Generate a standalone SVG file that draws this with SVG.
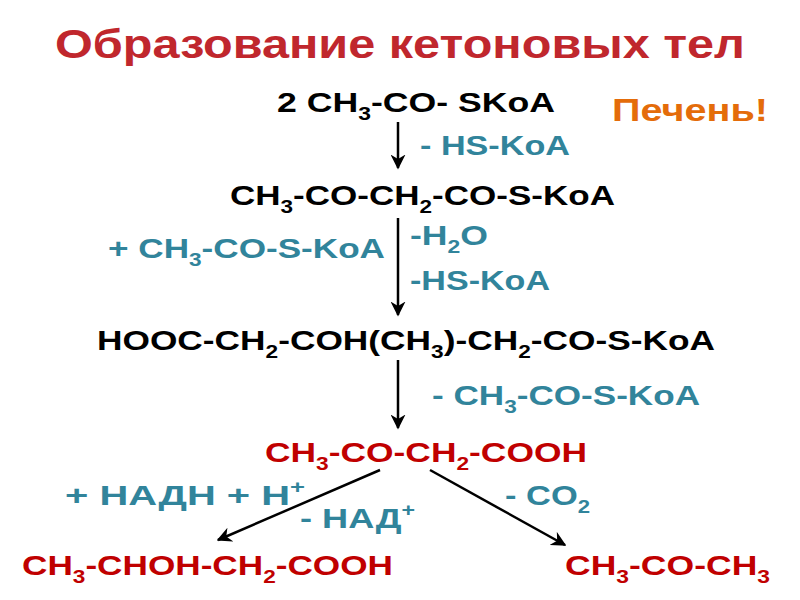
<svg xmlns="http://www.w3.org/2000/svg" width="800" height="600" viewBox="0 0 800 600">
<defs>
<style>
text{font-family:"Liberation Sans",Arial,sans-serif;font-weight:bold;font-size:28px}
.k{fill:#000}.t{fill:#31849B}.r{fill:#C00000}
.s{font-size:18px}
.c{stroke:#000;stroke-width:2.5;fill:none;marker-end:url(#a)}
</style>
<marker id="a" viewBox="0 0 10 10" refX="9" refY="5" markerWidth="6" markerHeight="6" orient="auto"><path d="M0,0 L10,5 L0,10 L3,5 Z" fill="#000"/></marker>
</defs>
<rect width="800" height="600" fill="#fff"/>
<text x="400" y="58" text-anchor="middle" style="font-size:40px" fill="#C0272D" textLength="690" lengthAdjust="spacingAndGlyphs">Образование кетоновых тел</text>
<text x="612" y="121" style="font-size:32px" fill="#E46C0A" textLength="156" lengthAdjust="spacingAndGlyphs">Печень!</text>
<g id="connectors">
<line class="c" x1="398" y1="122" x2="398" y2="168"/>
<line class="c" x1="398" y1="218" x2="398" y2="315"/>
<line class="c" x1="398" y1="360" x2="398" y2="428"/>
<line class="c" x1="380" y1="470" x2="218" y2="540"/>
<line class="c" x1="430" y1="470" x2="565" y2="545"/>
</g>
<g id="n1"><text class="k" x="277" y="112" textLength="278" lengthAdjust="spacingAndGlyphs">2 CH<tspan class="s" dy="8">3</tspan><tspan dy="-8">-CO- SKoA</tspan></text></g>
<text class="t" x="420" y="155" textLength="150" lengthAdjust="spacingAndGlyphs">- HS-KoA</text>
<g id="n2"><text class="k" x="230" y="205" textLength="385" lengthAdjust="spacingAndGlyphs">CH<tspan class="s" dy="8">3</tspan><tspan dy="-8">-CO-CH</tspan><tspan class="s" dy="8">2</tspan><tspan dy="-8">-CO-S-KoA</tspan></text></g>
<text class="t" x="108" y="258" textLength="277" lengthAdjust="spacingAndGlyphs">+ CH<tspan class="s" dy="8">3</tspan><tspan dy="-8">-CO-S-KoA</tspan></text>
<text class="t" x="410" y="245" textLength="78" lengthAdjust="spacingAndGlyphs">-H<tspan class="s" dy="8">2</tspan><tspan dy="-8">O</tspan></text>
<text class="t" x="410" y="290" textLength="140" lengthAdjust="spacingAndGlyphs">-HS-KoA</text>
<g id="n3"><text class="k" x="97" y="350" textLength="618" lengthAdjust="spacingAndGlyphs">HOOC-CH<tspan class="s" dy="8">2</tspan><tspan dy="-8">-COH(CH</tspan><tspan class="s" dy="8">3</tspan><tspan dy="-8">)-CH</tspan><tspan class="s" dy="8">2</tspan><tspan dy="-8">-CO-S-KoA</tspan></text></g>
<text class="t" x="432" y="405" textLength="268" lengthAdjust="spacingAndGlyphs">- CH<tspan class="s" dy="8">3</tspan><tspan dy="-8">-CO-S-KoA</tspan></text>
<g id="n4"><text class="r" x="265" y="462" textLength="322" lengthAdjust="spacingAndGlyphs">CH<tspan class="s" dy="8">3</tspan><tspan dy="-8">-CO-CH</tspan><tspan class="s" dy="8">2</tspan><tspan dy="-8">-COOH</tspan></text></g>
<text class="t" x="65" y="505" textLength="240" lengthAdjust="spacingAndGlyphs">+ НАДН + H<tspan class="s" dy="-12">+</tspan></text>
<text class="t" x="300" y="528" textLength="115" lengthAdjust="spacingAndGlyphs">- НАД<tspan class="s" dy="-12">+</tspan></text>
<text class="t" x="505" y="505" textLength="85" lengthAdjust="spacingAndGlyphs">- CO<tspan class="s" dy="8">2</tspan></text>
<g id="n5"><text class="r" x="22" y="575" textLength="371" lengthAdjust="spacingAndGlyphs">CH<tspan class="s" dy="8">3</tspan><tspan dy="-8">-CHOH-CH</tspan><tspan class="s" dy="8">2</tspan><tspan dy="-8">-COOH</tspan></text></g>
<g id="n6"><text class="r" x="565" y="575" textLength="205" lengthAdjust="spacingAndGlyphs">CH<tspan class="s" dy="8">3</tspan><tspan dy="-8">-CO-CH</tspan><tspan class="s" dy="8">3</tspan></text></g>
</svg>
